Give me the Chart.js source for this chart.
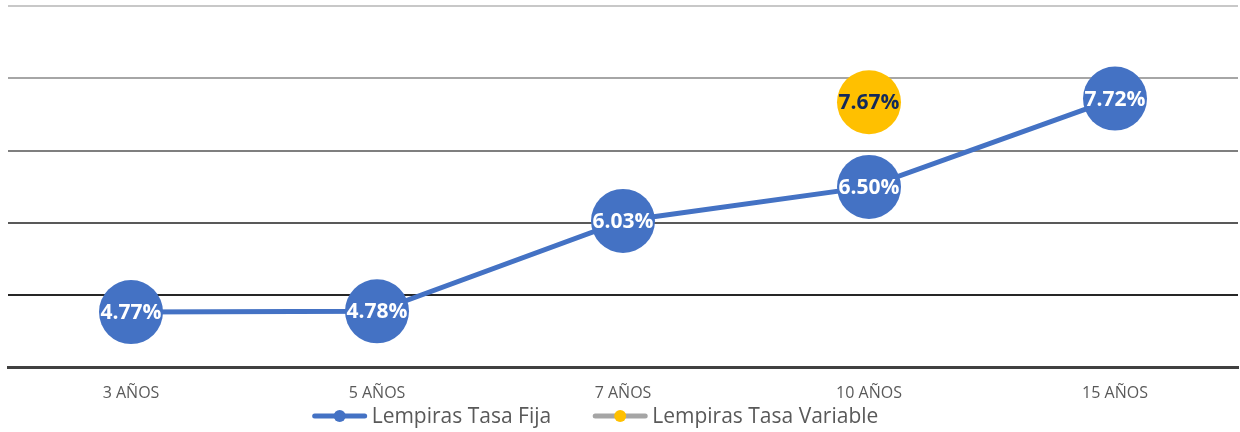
<!DOCTYPE html>
<html>
<head>
<meta charset="utf-8">
<script src="https://cdn.jsdelivr.net/npm/chart.js@4"></script>
<style>
  html, body { margin: 0; padding: 0; background: #ffffff; }
  #wrap { width: 1240px; height: 432px; }
</style>
</head>
<body>
<div id="wrap"><canvas id="graficoTasas"></canvas></div>
<script>
const plazos = ["3 AÑOS", "5 AÑOS", "7 AÑOS", "10 AÑOS", "15 AÑOS"];
const tasaFija = [4.77, 4.78, 6.03, 6.50, 7.72];
const tasaVariable = [null, null, null, 7.67, null];
const nombresSeries = ["Lempiras Tasa Fija", "Lempiras Tasa Variable"];

const azul = "#4472C4";
const amarillo = "#FFC000";
const gris = "#A5A5A5";
const grisTexto = "#595959";

// colores de las líneas de la cuadrícula, de abajo hacia arriba
const coloresGrid = { 5: "#262626", 6: "#595959", 7: "#7f7f7f", 8: "#a6a6a6", 9: "#c8c8c8" };

const etiquetasPuntos = {
    id: "etiquetasPuntos",
    afterDatasetsDraw(chart) {
        const ctx = chart.ctx;
        ctx.save();
        ctx.font = "bold 21px 'Open Sans', sans-serif";
        ctx.textAlign = "center";
        ctx.textBaseline = "middle";
        chart.data.datasets.forEach((ds, i) => {
            const meta = chart.getDatasetMeta(i);
            meta.data.forEach((pt, j) => {
                const v = ds.data[j];
                if (v === null) return;
                ctx.fillStyle = i === 0 ? "#ffffff" : "#13295a";
                ctx.fillText(v.toFixed(2) + "%", pt.x, pt.y + 1);
            });
        });
        ctx.restore();
    },
};

// leyenda estilo Excel: línea con punto al centro
const leyendaLinea = {
    id: "leyendaLinea",
    afterDraw(chart) {
        const ctx = chart.ctx;
        const y = 416;
        const anchoIcono = 56;
        ctx.save();
        ctx.font = "21px 'Open Sans', sans-serif";
        ctx.textBaseline = "middle";
        const items = chart.data.datasets.map((ds) => ({
            ds,
            w: anchoIcono + 4 + ctx.measureText(ds.label).width,
        }));
        const total = items.reduce((s, it) => s + it.w, 0) + 41 * (items.length - 1);
        let x = chart.width / 2 - 25 - total / 2;
        items.forEach(({ ds, w }) => {
            ctx.strokeStyle = ds.borderColor;
            ctx.lineWidth = 5;
            ctx.lineCap = "round";
            ctx.beginPath();
            ctx.moveTo(x + 3, y);
            ctx.lineTo(x + anchoIcono - 3, y);
            ctx.stroke();
            ctx.fillStyle = ds.pointBackgroundColor;
            ctx.beginPath();
            ctx.arc(x + anchoIcono / 2, y, 6, 0, Math.PI * 2);
            ctx.fill();
            ctx.fillStyle = grisTexto;
            ctx.fillText(ds.label, x + anchoIcono + 4, y + 1);
            x += w + 41;
        });
        ctx.restore();
    },
};

const dataGraficoTasas = {
    labels: plazos,
    datasets: [
        {
            label: nombresSeries[0],
            data: tasaFija,
            borderColor: azul,
            backgroundColor: azul,
            borderWidth: 5,
            pointRadius: 32,
            pointHoverRadius: 32,
            pointBorderWidth: 0,
            pointBackgroundColor: azul,
            tension: 0,
        },
        {
            label: nombresSeries[1],
            data: tasaVariable,
            borderColor: gris,
            backgroundColor: amarillo,
            borderWidth: 5,
            pointRadius: 32,
            pointHoverRadius: 32,
            pointBorderWidth: 0,
            pointBackgroundColor: amarillo,
        },
    ],
};

const configGraficoTasas = {
    type: "line",
    data: dataGraficoTasas,
    plugins: [etiquetasPuntos, leyendaLinea],
    options: {
        responsive: true,
        maintainAspectRatio: false,
        animation: false,
        layout: {
            autoPadding: false,
            padding: { left: 8, right: 2, top: 6, bottom: 21 },
        },
        scales: {
            x: {
                offset: true,
                grid: { display: false },
                border: { display: true, color: "#404040", width: 3 },
                ticks: {
                    color: grisTexto,
                    padding: 8,
                    font: { size: 16, family: "'Open Sans', sans-serif" },
                },
            },
            y: {
                min: 4,
                max: 9,
                ticks: { display: false, stepSize: 1 },
                border: { display: false },
                grid: {
                    drawTicks: false,
                    lineWidth: 2,
                    color: (c) => coloresGrid[c.tick.value] || "rgba(0,0,0,0)",
                },
            },
        },
        plugins: {
            tooltip: { enabled: false },
            legend: { display: false },
        },
    },
};

const grafico = new Chart(document.getElementById("graficoTasas"), configGraficoTasas);
</script>
</body>
</html>
